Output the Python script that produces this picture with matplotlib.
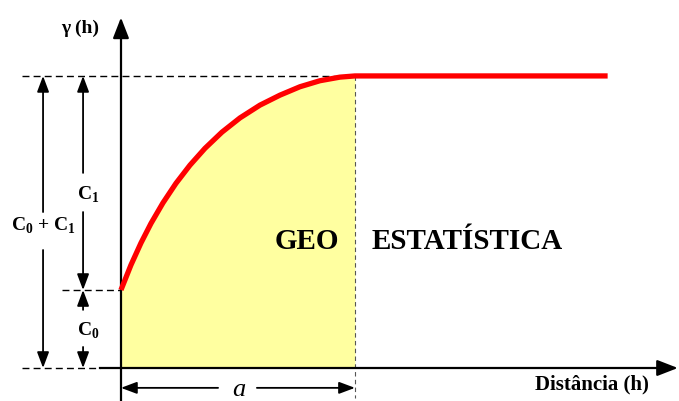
import matplotlib
matplotlib.use("Agg")
import matplotlib.pyplot as plt

# ---- data ----
C0 = 2.67          # nugget
C1 = 7.33          # partial sill
a_range = 10.0     # range a
h_pts = [0.0, 0.427, 0.855, 1.282, 1.795, 2.350, 2.949, 3.590, 4.316, 5.085,
         5.940, 6.795, 7.650, 8.504, 9.359, 10.0]
g_pts = [2.671, 3.527, 4.281, 4.949, 5.654, 6.322, 6.945, 7.521, 8.075, 8.562,
         9.000, 9.342, 9.630, 9.836, 9.959, 10.0]
h_plateau_end = 20.8
x_axis_end = 23.8
y_axis_end = 12.0

sill = C0 + C1

fig = plt.figure(figsize=(6.79, 4.01), dpi=100)
ax = fig.add_axes([0, 0, 1, 1])
ax.set_xlim(-5.17, 23.85)
ax.set_ylim(-1.13, 12.60)
ax.axis('off')

serif = ['Liberation Serif', 'DejaVu Serif']

# yellow fill
ax.fill_between(h_pts, 0, g_pts, color='#ffffa0', lw=0, zorder=1)

# dashed guides
dash = (0, (5, 3))
ax.plot([-4.23, a_range], [sill, sill], ls=dash, color='black', lw=1.0, zorder=2)
ax.plot([-2.52, 0], [C0, C0], ls=dash, color='black', lw=1.0, zorder=2)
ax.plot([-4.23, -0.9], [0, 0], ls=dash, color='black', lw=1.0, zorder=2)
ax.plot([a_range, a_range], [sill, -1.03], ls=(0, (4, 3)), color='#555555', lw=0.8, zorder=2)

# red variogram
ax.plot(h_pts + [h_plateau_end], g_pts + [sill], color='#ff0000', lw=3.8,
        solid_capstyle='butt', solid_joinstyle='round', zorder=4)

# axes with arrows
ax.plot([-0.9, x_axis_end - 0.5], [0, 0], color='black', lw=1.6, zorder=3)
ax.annotate('', xy=(x_axis_end, 0), xytext=(x_axis_end - 0.8, 0),
            arrowprops=dict(arrowstyle='-|>,head_length=0.9,head_width=0.35',
                            color='black', lw=1.6, mutation_scale=14, shrinkA=0, shrinkB=0), zorder=3)
ax.plot([0, 0], [-1.13, y_axis_end - 0.4], color='black', lw=1.6, zorder=3)
ax.annotate('', xy=(0, y_axis_end), xytext=(0, y_axis_end - 0.6),
            arrowprops=dict(arrowstyle='-|>,head_length=0.9,head_width=0.35',
                            color='black', lw=1.6, mutation_scale=14, shrinkA=0, shrinkB=0), zorder=3)

def arrow(x0, y0, x1, y1):
    ax.annotate('', xy=(x1, y1), xytext=(x0, y0),
                arrowprops=dict(arrowstyle='-|>,head_length=0.8,head_width=0.3',
                                color='black', lw=1.3, mutation_scale=12,
                                shrinkA=0, shrinkB=0), zorder=3)

lab = dict(family=serif, fontsize=14, ha='center', va='center', fontweight='bold')

# C0 + C1 dimension
xc = -3.33
arrow(xc, 5.34, xc, sill)
arrow(xc, 4.04, xc, 0)
ax.text(-3.31, 4.88, 'C$_\\mathregular{0}$ + C$_\\mathregular{1}$', **lab)
# C1 dimension
xd = -1.62
arrow(xd, 6.68, xd, sill)
arrow(xd, 5.34, xd, C0)
ax.text(-1.40, 5.92, 'C$_\\mathregular{1}$', **lab)
# C0 dimension
arrow(xd, 1.99, xd, C0)
arrow(xd, 0.72, xd, 0)
ax.text(-1.40, 1.28, 'C$_\\mathregular{0}$', **lab)

# range a
ya = -0.68
arrow(4.15, ya, 0, ya)
arrow(5.81, ya, a_range, ya)
ax.text(5.05, ya - 0.08, 'a', family=serif, fontsize=19, style='italic',
        ha='center', va='center')

# labels
ax.text(6.58, 4.33, 'GEO', family=serif, fontsize=21, fontweight='bold',
        ha='left', va='center')
ax.text(10.73, 4.33, 'ESTATÍSTICA', family=serif, fontsize=21, fontweight='bold',
        ha='left', va='center')
ax.text(20.15, -0.58, 'Distância (h)', family=serif, fontsize=15, fontweight='bold',
        ha='center', va='center')
ax.text(-1.75, 11.64, 'γ (h)', family=serif, fontsize=14, fontweight='bold',
        ha='center', va='center')

fig.savefig('out.png', dpi=100)
